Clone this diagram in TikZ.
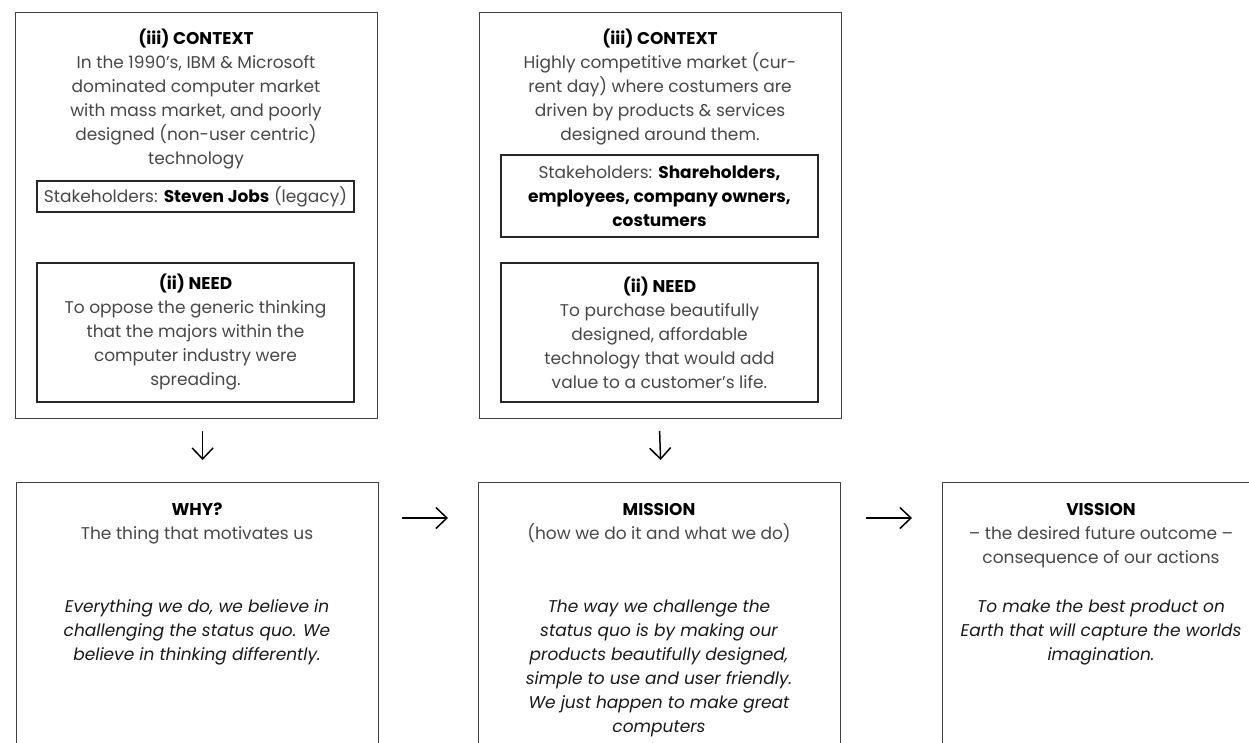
\documentclass[tikz,border=0pt]{standalone}
\usepackage{fontspec}
\setmainfont{Poppins}
\usetikzlibrary{arrows.meta}
\begin{document}
\begin{tikzpicture}[x=1pt,y=-1pt,
  bigbox/.style={draw=black!75, line width=1.2pt, inner sep=0pt, anchor=north west, minimum width=362pt},
  inbox/.style={draw=black!85, line width=1.4pt, inner sep=0pt, minimum width=317pt, align=center,
     font=\fontsize{17}{24}\selectfont, text=black!72},
  txt/.style={align=center, inner sep=0pt, font=\fontsize{17}{24}\selectfont, text=black!72},
  itx/.style={txt, font=\fontsize{17}{24}\selectfont\itshape, text=black!90},
  arr/.style={draw=black, line width=1.5pt, -{Straight Barb[length=11pt,width=21pt]}}]
\useasboundingbox (0,0) rectangle (1249,742);
\clip (0,0) rectangle (1249,742);
\newcommand{\hd}[1]{\textcolor{black}{\textbf{#1}}}
% top boxes
\node[bigbox, minimum height=406pt] (ctxA) at (15,12) {};
\node[bigbox, minimum height=406pt] (ctxB) at (479,12) {};
\node[txt] (ctxAt) at (196,99.5) {\hd{(iii) CONTEXT}\\In the 1990's, IBM \& Microsoft\\dominated computer market\\with mass market, and poorly\\designed (non-user centric)\\technology};
\node[inbox, minimum height=31pt] (stA) at (195.5,196.5) {Stakeholders: \hd{Steven Jobs} (legacy)};
\node[inbox, minimum height=139pt] (needA) at (195.5,332.5) {\hd{(ii) NEED}\\To oppose the generic thinking\\that the majors within the\\computer industry were\\spreading.};
\node[txt] (ctxBt) at (660,87.5) {\hd{(iii) CONTEXT}\\Highly competitive market (cur-\\rent day) where costumers are\\driven by products \& services\\designed around them.};
\node[inbox, minimum height=82pt] (stB) at (659.5,196) {Stakeholders: \hd{Shareholders,}\\\hd{employees, company owners,}\\\hd{costumers}};
\node[inbox, minimum height=139pt] (needB) at (659.5,332.5) {\hd{(ii) NEED}\\To purchase beautifully\\designed, affordable\\technology that would add\\value to a customer's life.};
% bottom boxes
\node[bigbox, minimum height=300pt] (why) at (16,482) {};
\node[bigbox, minimum height=300pt] (mis) at (478,482) {};
\node[bigbox, minimum height=300pt, minimum width=320pt] (vis) at (942,482) {};
\node[txt] (whyt) at (197,523) {\hd{WHY?}\\The thing that motivates us};
\node[itx] (whyi) at (197,632) {Everything we do, we believe in\\challenging the status quo. We\\believe in thinking differently.};
\node[txt] (mist) at (659,523) {\hd{MISSION}\\(how we do it and what we do)};
\node[itx] (misi) at (659,668) {The way we challenge the\\status quo is by making our\\products beautifully designed,\\simple to use and user friendly.\\We just happen to make great\\computers};
\node[txt] (vist) at (1101,536) {\hd{VISSION}\\– the desired future outcome –\\consequence of our actions};
\node[itx] (visi) at (1101,632) {To make the best product on\\Earth that will capture the worlds\\imagination.};
% arrows
\draw[arr] ([xshift=6pt,yshift=-12pt]ctxA.south) -- ([xshift=5pt,yshift=22pt]why.north);
\draw[arr] ([xshift=-1pt,yshift=-12pt]ctxB.south) -- ([xshift=1pt,yshift=22pt]mis.north);
\draw[arr] ([xshift=23pt,yshift=-36pt]why.north east) -- ([xshift=-30pt,yshift=-36pt]mis.north west);
\draw[arr] ([xshift=25pt,yshift=-36pt]mis.north east) -- ([xshift=-30pt,yshift=-36pt]vis.north west);
\end{tikzpicture}
\end{document}
